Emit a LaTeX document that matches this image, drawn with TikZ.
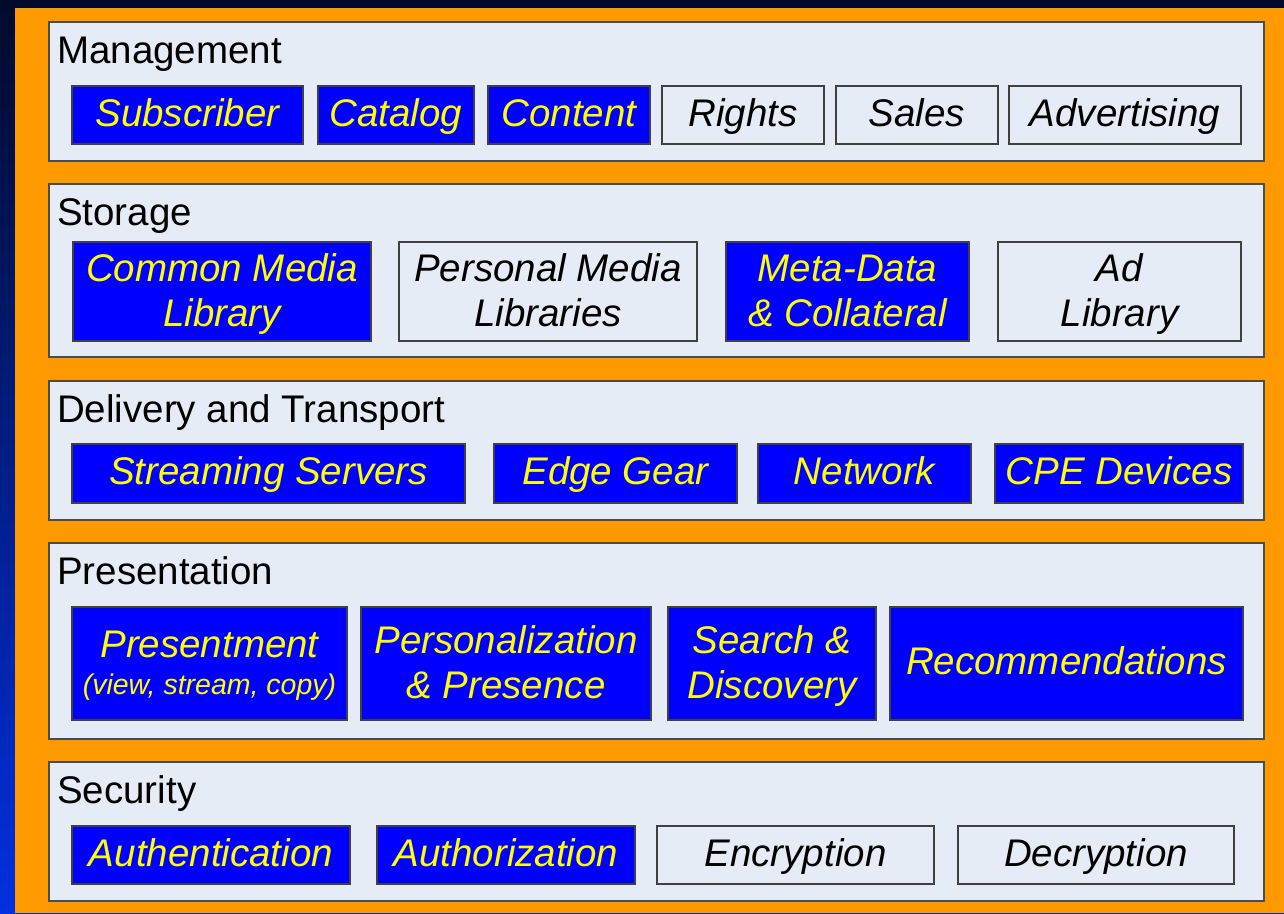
\documentclass[tikz,border=0pt]{standalone}
\usepackage{fontspec}
\setmainfont{Liberation Sans}
\definecolor{orng}{HTML}{FF9900}
\definecolor{panelfill}{HTML}{E6ECF6}
\definecolor{bxblue}{HTML}{0000FF}
\definecolor{bxyellow}{HTML}{FFFF00}
\definecolor{navytop}{HTML}{000A2A}
\definecolor{bluebot}{HTML}{0030E0}
\newcommand{\mybox}[7]{%
  \node[#6, minimum width={(#4-#2)*1pt}, minimum height={(#5-#3)*1pt}]
    (#1) at ({(#2+#4)/2},{(#3+#5)/2}) {#7};}
% two-line box: name x1 y1 x2 y2 boxstyle textstyle line1 line2 offset1 offset2
\newcommand{\mytwo}[9]{%
  \node[#6, minimum width={(#4-#2)*1pt}, minimum height={(#5-#3)*1pt}]
    (#1) at ({(#2+#4)/2},{(#3+#5)/2}) {};
  \node[#7, anchor=base] (#1a) at ([yshift=10pt]#1.center) {#8};
  \node[#7, anchor=base] (#1b) at ([yshift=-35pt]#1.center) {#9};}
\begin{document}
\begin{tikzpicture}[x=1pt,y=-1pt,
  panel/.style={fill=panelfill, draw=black!70, line width=1.5pt},
  ptitle/.style={anchor=base west, inner sep=0, font=\fontsize{38.5}{46}\selectfont, text=black},
  bluebx/.style={fill=bxblue, draw=black!75, line width=1.5pt, inner sep=0,
    text=bxyellow, font=\fontsize{38.5}{46}\selectfont\itshape},
  whitebx/.style={fill=panelfill, draw=black!75, line width=1.5pt, inner sep=0,
    text=black, font=\fontsize{38.5}{46}\selectfont\itshape},
  yeltxt/.style={inner sep=0, text=bxyellow, font=\fontsize{38.5}{46}\selectfont\itshape},
  blktxt/.style={inner sep=0, text=black, font=\fontsize{38.5}{46}\selectfont\itshape},
  smalltxt/.style={inner sep=0, text=bxyellow, font=\fontsize{28.5}{32}\selectfont\itshape},
  one/.style={text height=30pt, text depth=8pt}]
\useasboundingbox (0,0) rectangle (1284,913);
\shade[top color=navytop, bottom color=bluebot] (0,0) rectangle (1284,913);
\fill[orng] (15,8) rectangle (1284,913);
% panels
\draw[panel] (49,22) rectangle (1264,161);
\draw[panel] (49,184) rectangle (1264,357);
\draw[panel] (49,381) rectangle (1264,520);
\draw[panel] (49,543) rectangle (1264,739);
\draw[panel] (49,762) rectangle (1264,901);
\node[ptitle] (tm) at (57,63) {Management};
\node[ptitle] (ts) at (57,225) {Storage};
\node[ptitle] (td) at (57,422) {Delivery and Transport};
\node[ptitle] (tp) at (57,584) {Presentation};
\node[ptitle] (tc) at (57,803) {Security};
% Management
\mybox{m1}{72}{86}{303}{144}{bluebx,one}{Subscriber}
\mybox{m2}{318}{86}{474}{144}{bluebx,one}{Catalog}
\mybox{m3}{488}{86}{650}{144}{bluebx,one}{Content}
\mybox{m4}{662}{86}{824}{144}{whitebx,one}{Rights}
\mybox{m5}{836}{86}{998}{144}{whitebx,one}{Sales}
\mybox{m6}{1009}{86}{1241}{144}{whitebx,one}{Advertising}
% Storage
\mytwo{s1}{73}{242}{371}{341}{bluebx}{yeltxt}{Common Media}{Library}
\mytwo{s2}{399}{242}{697}{341}{whitebx}{blktxt}{Personal Media}{Libraries}
\mytwo{s3}{726}{242}{969}{341}{bluebx}{yeltxt}{Meta-Data}{\& Collateral}
\mytwo{s4}{998}{242}{1241}{341}{whitebx}{blktxt}{Ad}{Library}
% Delivery
\mybox{d1}{72}{444}{465}{503}{bluebx,one}{Streaming Servers}
\mybox{d2}{494}{444}{737}{503}{bluebx,one}{Edge Gear}
\mybox{d3}{758}{444}{971}{503}{bluebx,one}{Network}
\mybox{d4}{995}{444}{1243}{503}{bluebx,one}{CPE Devices}
% Presentation
\node[bluebx, minimum width=275pt, minimum height=113pt] (p1) at (209.5,663.5) {};
\node[yeltxt, anchor=base] (p1a) at ([yshift=6.5pt]p1.center) {Presentment};
\node[smalltxt, anchor=base] (p1b) at ([yshift=-30.5pt]p1.center) {(view, stream, copy)};
\mytwo{p2}{361}{607}{651}{720}{bluebx}{yeltxt}{Personalization}{\& Presence}
\mytwo{p3}{668}{607}{876}{720}{bluebx}{yeltxt}{Search \&}{Discovery}
\mybox{p4}{890}{607}{1243}{720}{bluebx,one}{Recommendations}
% Security
\mybox{c1}{72}{826}{350}{884}{bluebx,one}{Authentication}
\mybox{c2}{377}{826}{635}{884}{bluebx,one}{Authorization}
\mybox{c3}{657}{826}{934}{884}{whitebx,one}{Encryption}
\mybox{c4}{958}{826}{1234}{884}{whitebx,one}{Decryption}
\end{tikzpicture}
\end{document}
